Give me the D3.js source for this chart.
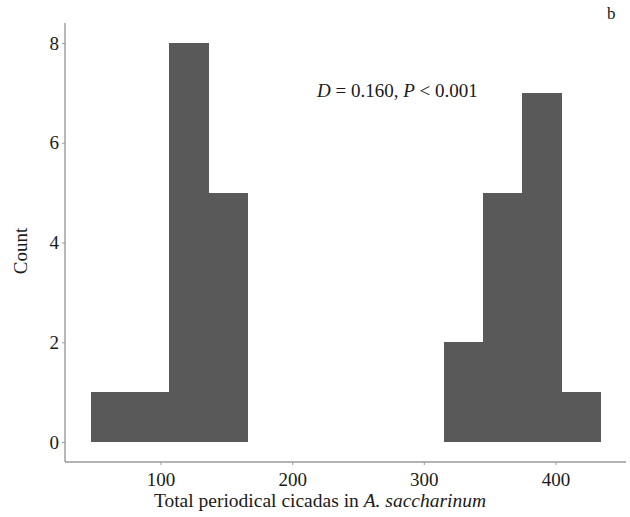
<!DOCTYPE html>
<html>
<head>
<meta charset="utf-8">
<script src="https://cdn.jsdelivr.net/npm/d3@7"></script>
<style>
  body { margin: 0; background: #fff; }
  text { font-family: "Liberation Serif", "Times New Roman", serif; fill: #1a1a1a; }
</style>
</head>
<body>
<svg id="chart" width="630" height="517"></svg>
<script>
// Histogram bin edges (total periodical cicadas) and counts per bin
const binEdges = [46.8, 76.6, 106.4, 136.2, 166.0, 195.8, 225.6, 255.4, 285.2, 315.0, 344.8, 374.6, 404.4, 434.2];
const binCounts = [1, 1, 8, 5, 0, 0, 0, 0, 0, 2, 5, 7, 1];
const xTicks = [100, 200, 300, 400];
const yTicks = [0, 2, 4, 6, 8];

// Panel box
const panel = { left: 65, right: 626, top: 23, bottom: 462 };

const svg = d3.select("#chart");

const bins = binCounts.map((c, i) => ({ x0: binEdges[i], x1: binEdges[i + 1], count: c }));

const x = d3.scaleLinear().domain([27.4, 453.6]).range([panel.left, panel.right]);
const y = d3.scaleLinear().domain([-0.4, 8.4]).range([panel.bottom, panel.top]);

// Bars (crisp edges so adjacent bins merge without seams)
svg.append("g")
  .attr("shape-rendering", "crispEdges")
  .selectAll("rect")
  .data(bins.filter(d => d.count > 0))
  .enter()
  .append("rect")
  .attr("x", d => x(d.x0))
  .attr("width", d => x(d.x1) - x(d.x0) + 0.5)
  .attr("y", d => y(d.count))
  .attr("height", d => y(0) - y(d.count))
  .attr("fill", "#595959");

// Axes
const xAxis = d3.axisBottom(x).tickValues(xTicks).tickSize(3).tickPadding(3);
const yAxis = d3.axisLeft(y).tickValues(yTicks).tickSize(3).tickPadding(3);

const gx = svg.append("g")
  .attr("transform", `translate(0, ${panel.bottom})`)
  .call(xAxis);
const gy = svg.append("g")
  .attr("transform", `translate(${panel.left}, 0)`)
  .call(yAxis);

[gx, gy].forEach(g => {
  g.select(".domain").attr("stroke", "#9a9a9a").attr("stroke-width", 1.4);
  g.selectAll(".tick line").attr("stroke", "#9a9a9a").attr("stroke-width", 1);
  g.selectAll(".tick text")
    .attr("fill", "#1a1a1a")
    .style("font-family", "'Liberation Serif', serif")
    .style("font-size", "19px");
});
gx.select(".domain").attr("d", `M${panel.left},0H${panel.right}`);
gy.select(".domain").attr("d", `M0,${panel.top}V${panel.bottom}`);
gx.selectAll(".tick text").attr("dy", "0.95em");

// Axis titles
svg.append("text")
  .attr("x", 320)
  .attr("y", 507)
  .attr("text-anchor", "middle")
  .style("font-size", "19.5px")
  .html('Total periodical cicadas in <tspan font-style="italic">A. saccharinum</tspan>');

svg.append("text")
  .attr("transform", "translate(27, 251) rotate(-90)")
  .attr("text-anchor", "middle")
  .style("font-size", "19px")
  .text("Count");

// Annotation
svg.append("text")
  .attr("x", 317)
  .attr("y", 97)
  .style("font-size", "19px")
  .html('<tspan font-style="italic">D</tspan> = 0.160, <tspan font-style="italic">P</tspan> &lt; 0.001');

// Panel letter
svg.append("text")
  .attr("x", 607)
  .attr("y", 19)
  .style("font-size", "17px")
  .text("b");
</script>
</body>
</html>
